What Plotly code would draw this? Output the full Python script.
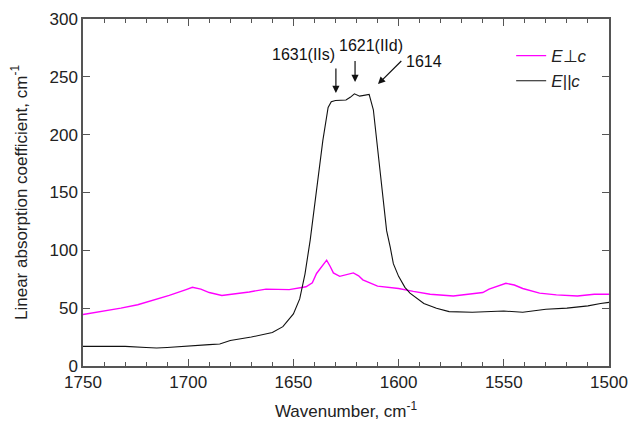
import plotly.graph_objects as go

# E||c (black)
x_par = [1750, 1740, 1730, 1720, 1715, 1710, 1700, 1690, 1685, 1680, 1670, 1660, 1655, 1650,
         1647, 1644.5, 1642, 1639, 1636, 1633.5, 1632, 1630, 1625, 1623, 1621, 1618.5, 1616,
         1614, 1612, 1609.6, 1607.3, 1605.7, 1604, 1602.5, 1600, 1597, 1594.6, 1588, 1582,
         1576, 1565, 1550, 1541, 1537, 1530, 1520, 1510, 1504, 1500]
y_par = [17, 17, 17, 16, 15.5, 16, 17.5, 18.5, 19, 22, 25, 29, 34, 45,
         58, 79.5, 109, 151.5, 195, 223.5, 228.5, 229.5, 230, 232.3, 235.3, 233.3, 234.3,
         234.8, 221.5, 181, 138, 117, 103, 88.5, 77.5, 68, 63, 54, 50,
         47, 46.5, 47.5, 46.5, 47.5, 49, 50, 52, 54, 55]

# E⊥c (magenta)
x_perp = [1750, 1740, 1732, 1724, 1716, 1709, 1701, 1698, 1694, 1690, 1684, 1679, 1671, 1663,
          1656, 1652, 1644, 1641, 1639, 1636, 1634.2, 1632.5, 1631, 1628, 1624, 1621.5, 1619,
          1617, 1610, 1600, 1593, 1585, 1574, 1566, 1560, 1557, 1549, 1545, 1541, 1533, 1525,
          1515, 1507, 1500]
y_perp = [44.5, 47.5, 50, 53, 57, 61, 66, 68, 66.5, 63.5, 61, 62, 64, 66.5,
          66, 66, 68.5, 72, 80, 87.5, 91.5, 86, 80.5, 77.5, 79, 80.5, 78,
          74.5, 69, 67, 64.5, 62, 60.5, 62, 63.5, 66.5, 71.5, 70, 67, 63, 61.5,
          60.5, 62, 62]

# annotations: label, text centre (x, y), arrow tip (x, y), arrow tail (x, y)
ann_labels = ["1631(IIs)", "1621(IId)", "1614"]
ann_text_x = [1645.4, 1613.1, 1588]
ann_text_y = [269, 277.5, 263]
ann_tip_x = [1629.8, 1620.7, 1609.8]
ann_tip_y = [236, 245.5, 243.7]
ann_tail_x = [1629.8, 1620.7, 1598]
ann_tail_y = [258.4, 265, 265]

fig = go.Figure()
fig.add_trace(go.Scatter(x=x_perp, y=y_perp, mode="lines", name="<i>E</i>⊥<i>c</i>",
                         line=dict(color="#FF00FF", width=1.4)))
fig.add_trace(go.Scatter(x=x_par, y=y_par, mode="lines", name="<i>E||c</i>",
                         line=dict(color="#111111", width=1.1)))

for lab, tx, ty in zip(ann_labels, ann_text_x, ann_text_y):
    fig.add_annotation(x=tx, y=ty, text=lab, showarrow=False,
                       font=dict(size=16, color="#111111"))
for hx, hy, tx, ty in zip(ann_tip_x, ann_tip_y, ann_tail_x, ann_tail_y):
    fig.add_annotation(x=hx, y=hy, ax=tx, ay=ty, axref="x", ayref="y", text="",
                       showarrow=True, arrowhead=2, arrowsize=1.2, arrowwidth=1.2,
                       arrowcolor="#111111")

axis_common = dict(showline=True, linecolor="#555555", linewidth=1.5, mirror="ticks",
                   ticks="inside", ticklen=7, tickcolor="#555555", tickwidth=1.2,
                   showgrid=False, zeroline=False, automargin=False,
                   tickfont=dict(size=17, color="#222222"),
                   title_font=dict(size=17, color="#222222"))

fig.update_xaxes(range=[1750, 1500], tick0=1500, dtick=50,
                 minor=dict(ticks="inside", ticklen=4, dtick=10, tickcolor="#555555"),
                 title_text="Wavenumber, cm<sup>-1</sup>", title_standoff=14, **axis_common)
fig.update_yaxes(range=[0, 300], dtick=50,
                 title_text="Linear absorption coefficient, cm<sup>-1</sup>", title_standoff=18,
                 **axis_common)

fig.update_layout(width=632, height=423, margin=dict(l=83, r=23, t=19, b=57),
                  paper_bgcolor="white", plot_bgcolor="white",
                  font=dict(family="Liberation Sans, Arial, sans-serif"),
                  legend=dict(x=0.814, y=0.945, xanchor="left", yanchor="top",
                              bgcolor="rgba(0,0,0,0)", font=dict(size=17, color="#222222"),
                              tracegroupgap=0))

fig.write_html("out.html", config={"displayModeBar": False},
               post_script="document.body.style.margin='0';document.body.style.padding='0';")
